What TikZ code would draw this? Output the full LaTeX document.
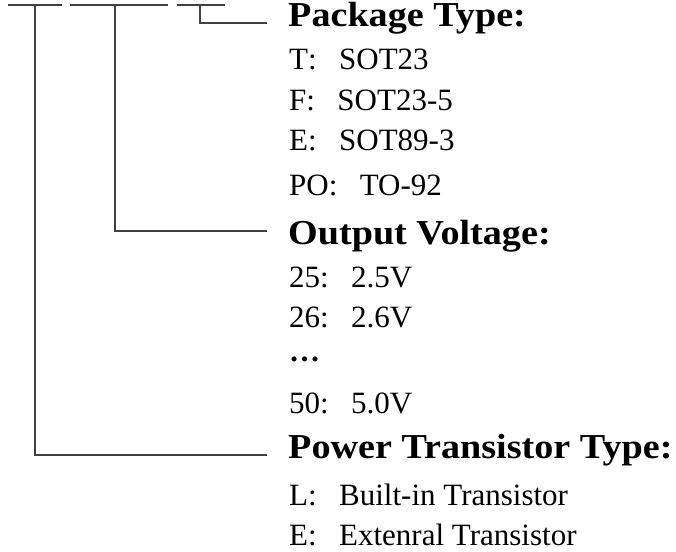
\documentclass[tikz,border=0pt]{standalone}
\usepackage{fontspec}
\setmainfont{Liberation Serif}
\newfontfamily\judulfont{Liberation Serif Bold}[FakeStretch=1.09]
\usepackage{tikz}
\usetikzlibrary{positioning}
\newcommand{\tdk}{\makebox[1em][l]{:}}
\tikzset{
  judul/.style={anchor=base west, inner sep=0pt, font=\judulfont\fontsize{35}{40}\selectfont},
  isi/.style={anchor=base west, inner sep=0pt, font=\fontsize{31}{36}\selectfont},
  garis/.style={line width=1.4pt, black!75}
}

\begin{document}
\begin{tikzpicture}[x=1pt, y=-1pt]
  \useasboundingbox (0,0) rectangle (676,551);

  % kotak kode di atas
  \coordinate (a1) at (8,5);   \coordinate (b1) at (62,5);
  \coordinate (a2) at (70,5);  \coordinate (b2) at (168,5);
  \coordinate (a3) at (177,5); \coordinate (b3) at (225,5);
  \draw[garis] (a1) -- (b1);
  \draw[garis] (a2) -- (b2);
  \draw[garis] (a3) -- (b3);

  \coordinate (k1) at (35,5);
  \coordinate (k2) at (115,5);
  \coordinate (k3) at (200,5);
  \coordinate (u1) at (267,455);
  \coordinate (u2) at (267,231);
  \coordinate (u3) at (267,23);

  % judul dan isi
  \node[judul] (j3) at (288,27) {Package Type\tdk};
  \node[isi] (t1) at (289,69) {T\tdk SOT23};
  \node[isi] (t2) at (289,110) {F\tdk SOT23-5};
  \node[isi] (t3) at (289,150) {E\tdk SOT89-3};
  \node[isi] (t4) at (289,195) {PO\tdk TO-92};

  \node[judul] (j2) at (288,244) {Output Voltage\tdk};
  \node[isi] (v1) at (289,287) {25\tdk 2.5V};
  \node[isi] (v2) at (289,327) {26\tdk 2.6V};
  \node[isi] (v3) at (289,361) {\textbf{…}};
  \node[isi] (v4) at (289,413) {50\tdk 5.0V};

  \node[judul] (j1) at (288,458) {Power Transistor Type\tdk};
  \node[isi] (s1) at (289,505) {L\tdk Built-in Transistor};
  \node[isi] (s2) at (289,545) {E\tdk Extenral Transistor};

  % garis penunjuk
  \draw[garis] (k3) |- (u3);
  \draw[garis] (k2) |- (u2);
  \draw[garis] (k1) |- (u1);
\end{tikzpicture}
\end{document}
